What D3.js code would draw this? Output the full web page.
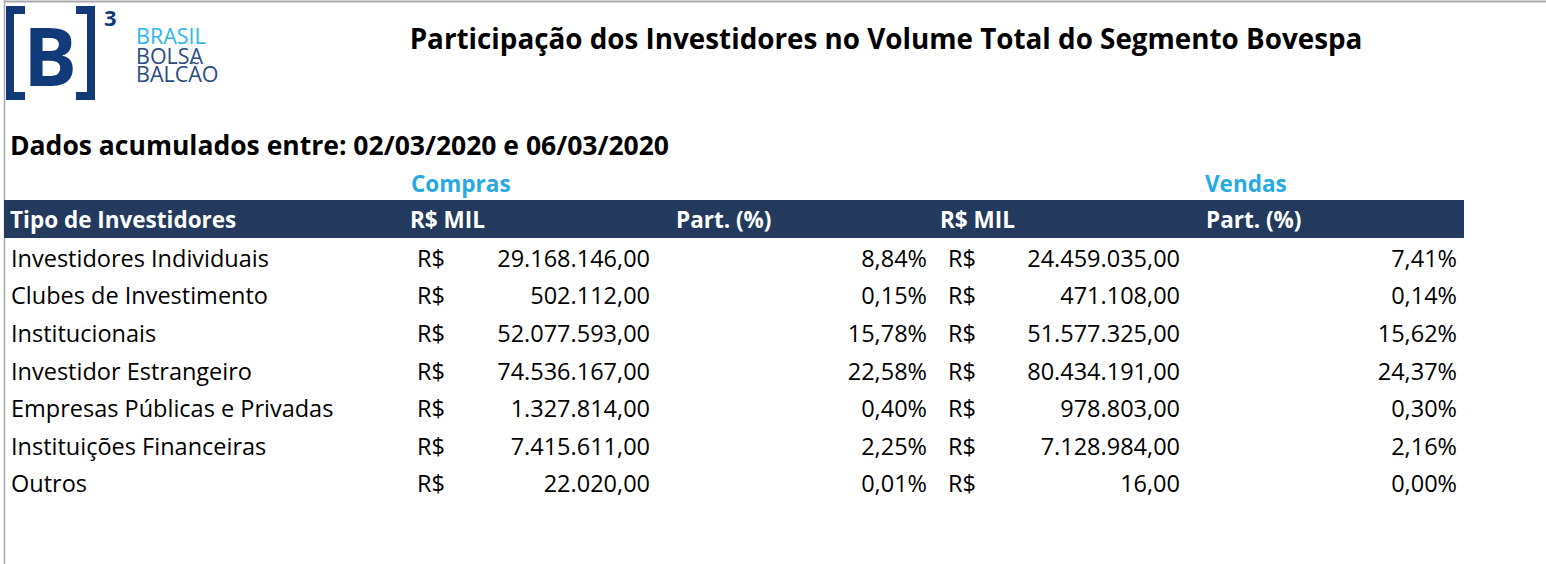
<!DOCTYPE html><html><head><meta charset="utf-8"><script src="https://cdn.jsdelivr.net/npm/d3@7"></script>
<style>body{margin:0;background:#fff}text{font-family:"Open Sans",sans-serif}</style></head><body><svg id="c" width="1546" height="564"></svg>
<script>
const categories=["Investidores Individuais","Clubes de Investimento","Institucionais","Investidor Estrangeiro","Empresas Públicas e Privadas","Instituições Financeiras","Outros"];
const comprasValor=["29.168.146,00","502.112,00","52.077.593,00","74.536.167,00","1.327.814,00","7.415.611,00","22.020,00"];
const comprasPart=["8,84%","0,15%","15,78%","22,58%","0,40%","2,25%","0,01%"];
const vendasValor=["24.459.035,00","471.108,00","51.577.325,00","80.434.191,00","978.803,00","7.128.984,00","16,00"];
const vendasPart=["7,41%","0,14%","15,62%","24,37%","0,30%","2,16%","0,00%"];
const headers=["Tipo de Investidores","R$ MIL","Part. (%)","R$ MIL","Part. (%)"];
const svg=d3.select("#c");
svg.append("line").attr("x1",4).attr("x2",1546).attr("y1",1.5).attr("y2",1.5).attr("stroke","#aaa").attr("stroke-width",2);
svg.append("line").attr("x1",4.5).attr("x2",4.5).attr("y1",0).attr("y2",564).attr("stroke","#aaa").attr("stroke-width",1.5);
const navy="#123a78";
const lg=svg.append("g");
lg.append("path").attr("d","M6,6H25V14H14V92H25V100H6Z").attr("fill",navy);
lg.append("path").attr("d","M95,6H76V14H87V92H76V100H95Z").attr("fill",navy);
lg.append("text").attr("x",50).attr("y",86).attr("text-anchor","middle").attr("font-size",80).attr("font-weight",700).attr("font-family","DejaVu Sans").attr("fill",navy).text("B");
lg.append("text").attr("x",104).attr("y",26).attr("font-size",22).attr("font-weight",700).attr("font-family","DejaVu Sans").attr("fill",navy).text("3");
[["BRASIL",44,"#2eb6ee"],["BOLSA",64,"#2b4d80"],["BALCÃO",82,"#2b4d80"]].forEach(([t,y,c])=>lg.append("text").attr("x",136).attr("y",y).attr("font-size",21.5).attr("font-family","Roboto").attr("fill",c).text(t));
svg.append("text").attr("x",886).attr("y",49).attr("text-anchor","middle").attr("font-size",27.8).attr("font-weight",700).text("Participação dos Investidores no Volume Total do Segmento Bovespa");
svg.append("text").attr("x",10).attr("y",155).attr("font-size",26.5).attr("font-weight",700).text("Dados acumulados entre: 02/03/2020 e 06/03/2020");
svg.append("text").attr("x",411).attr("y",192).attr("font-size",22.5).attr("font-weight",700).attr("fill","#27aae1").text("Compras");
svg.append("text").attr("x",1205).attr("y",192).attr("font-size",22.5).attr("font-weight",700).attr("fill","#27aae1").text("Vendas");
svg.append("rect").attr("x",4).attr("y",200).attr("width",1460).attr("height",38).attr("fill","#233a5e");
const hx=[10,410,676,940,1206];
headers.forEach((h,i)=>svg.append("text").attr("x",hx[i]).attr("y",228).attr("font-size",22.5).attr("font-weight",700).attr("fill","#fff").text(h));
const y=d3.scaleBand().domain(categories).range([240,503]);
const g=svg.selectAll("g.r").data(categories).join("g").attr("transform",d=>`translate(0,${y(d)+y.bandwidth()/2+8})`).attr("font-size",23.5);
g.append("text").attr("x",11).text(d=>d);
g.append("text").attr("x",417).text("R$");
g.append("text").attr("x",650).attr("text-anchor","end").text((d,i)=>comprasValor[i]);
g.append("text").attr("x",927).attr("text-anchor","end").text((d,i)=>comprasPart[i]);
g.append("text").attr("x",948).text("R$");
g.append("text").attr("x",1180).attr("text-anchor","end").text((d,i)=>vendasValor[i]);
g.append("text").attr("x",1457).attr("text-anchor","end").text((d,i)=>vendasPart[i]);
</script></body></html>
